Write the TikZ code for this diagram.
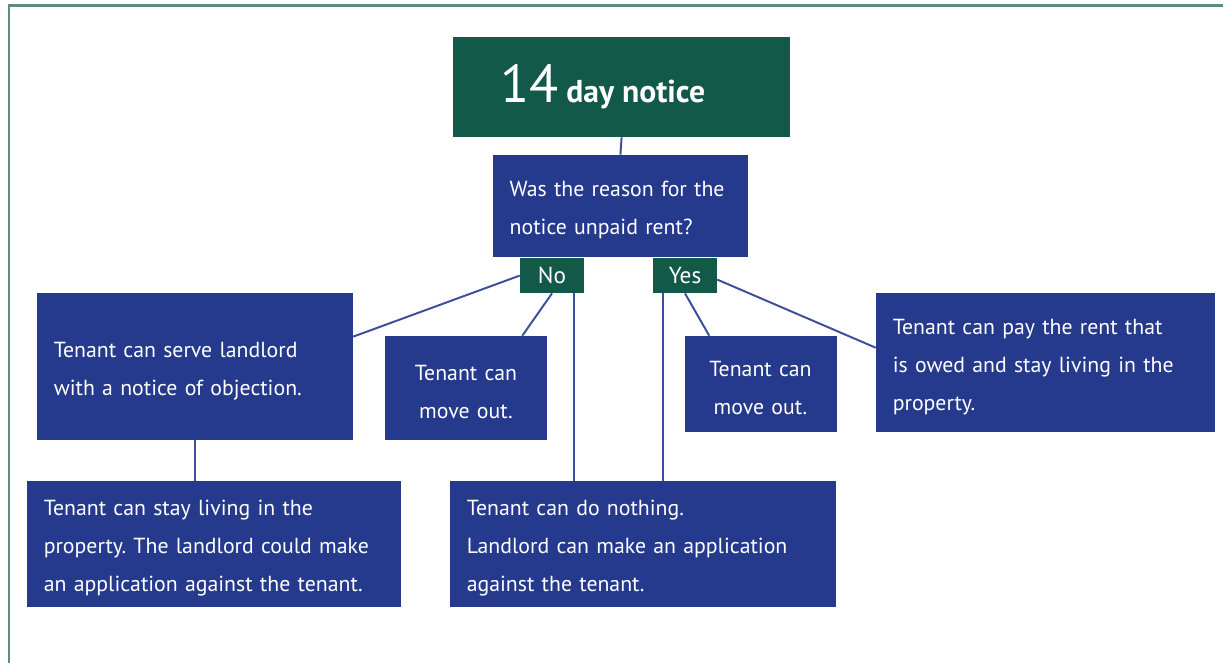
\documentclass[tikz,border=0pt]{standalone}
\usepackage{fontspec}
\setmainfont{PT Sans}
\frenchspacing

\definecolor{noticegreen}{HTML}{135949}
\definecolor{noticeblue}{HTML}{253A8C}
\definecolor{linkblue}{HTML}{3D4F9C}
\definecolor{framegreen}{HTML}{5E8C83}

\newcommand{\tenantfont}{\fontsize{15.5}{27}\selectfont}

\tikzstyle{titlebox}=[fill=noticegreen,text=white,inner xsep=1.175cm,text width=6.075cm,align=left,minimum height=2.5cm]
\tikzstyle{answerbox}=[fill=noticeblue,text=white,inner xsep=0.42cm,inner ysep=0cm,align=left,font=\tenantfont,execute at begin node={\rule{0pt}{17pt}}]
\tikzstyle{centerbox}=[answerbox,align=center]
\tikzstyle{choicebox}=[fill=noticegreen,text=white,minimum width=1.6cm,minimum height=0.875cm,inner sep=0cm,font=\fontsize{16.5}{18}\selectfont]
\tikzstyle{branch}=[draw=linkblue,line width=1.4pt]
\tikzstyle{justdown}=[shift={(0cm,-0.1cm)}]

\begin{document}
\begin{tikzpicture}

\useasboundingbox (0cm,0cm) rectangle (30.575cm,-16.575cm);
\draw[framegreen,line width=0.06cm] (0.225cm,-16.575cm) -- (0.225cm,-0.14cm) -- (30.575cm,-0.14cm);

\node[titlebox] (T) at (15.54cm,-2.175cm) {{\fontsize{38}{38}\selectfont 14}\hspace{0.2cm}{\fontsize{22.5}{23}\selectfont\bfseries day\hspace{0.2cm}notice}};
\node[answerbox,text width=5.535cm,minimum height=2.55cm] (Q) at (15.51cm,-5.15cm) {Was the reason for the\\notice unpaid rent?};
\node[choicebox] (NO) at (13.8cm,-6.89cm) {No};
\node[choicebox] (YES) at (17.125cm,-6.89cm) {Yes};

\node[answerbox,text width=7.06cm,minimum height=3.675cm] (A1) at (4.875cm,-9.16cm) {Tenant can serve landlord\\with a notice of objection.};
\node[centerbox,text width=3.21cm,minimum height=2.6cm] (A2) at (11.65cm,-9.7cm) {Tenant can\\move out.};
\node[answerbox,text width=8.51cm,minimum height=3.15cm] (A3) at (5.35cm,-13.6cm) {Tenant can stay living in the\\property. The landlord could make\\an application against the tenant.};
\node[answerbox,text width=8.81cm,minimum height=3.15cm] (A4) at (16.075cm,-13.6cm) {Tenant can do nothing.\\Landlord can make an application\\against the tenant.};
\node[centerbox,text width=2.96cm,minimum height=2.4cm] (A5) at (19.0125cm,-9.6cm) {Tenant can\\move out.};
\node[answerbox,text width=7.635cm,minimum height=3.475cm] (A6) at (26.1375cm,-9.0625cm) {Tenant can pay the rent that\\is owed and stay living in the\\property.};

\coordinate[shift={(0cm,-1.1cm)}] (A1EAST) at (A1.north east);
\coordinate[shift={(-0.625cm,0cm)}] (A2NORTH) at (A2.north east);
\coordinate[shift={(-0.25cm,0cm)}] (NODOWN) at (NO.south east);
\coordinate[shift={(0.25cm,0cm)}] (YESDOWN) at (YES.south west);
\coordinate[shift={(0.625cm,0cm)}] (A5NORTH) at (A5.north west);
\coordinate[justdown] (YESEAST) at (YES.east);
\coordinate[shift={(0cm,-1.375cm)}] (A6WEST) at (A6.north west);

\draw[branch] (T.south) -- (Q.north);
\draw[branch] (NO.west) -- (A1EAST);
\draw[branch] (NO.south) -- (A2NORTH);
\draw[branch] (NODOWN) -- (NODOWN |- A4.north);
\draw[branch] (YESDOWN) -- (YESDOWN |- A4.north);
\draw[branch] (YES.south) -- (A5NORTH);
\draw[branch] (YESEAST) -- (A6WEST);
\draw[branch] (A1.south) -- (A1.south |- A3.north);

\end{tikzpicture}
\end{document}
